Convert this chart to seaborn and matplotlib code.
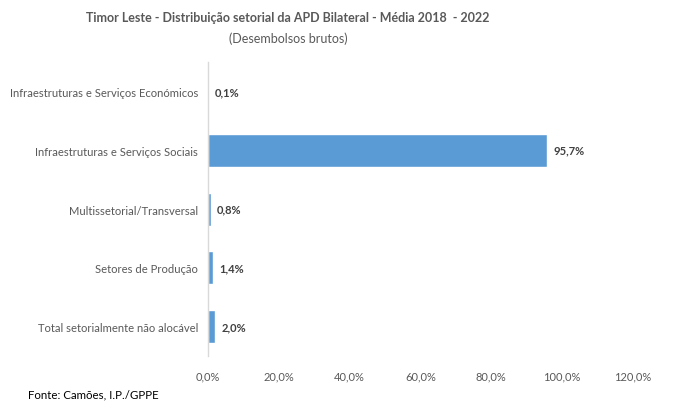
import pandas as pd
import matplotlib.pyplot as plt
import seaborn as sns

# data
categorias = ["Infraestruturas e Serviços Económicos",
              "Infraestruturas e Serviços Sociais",
              "Multissetorial/Transversal",
              "Setores de Produção",
              "Total setorialmente não alocável"]
valores = [0.1, 95.7, 0.8, 1.4, 2.0]
rotulos = ["0,1%", "95,7%", "0,8%", "1,4%", "2,0%"]
ticks = [0, 20, 40, 60, 80, 100, 120]

df = pd.DataFrame({"setor": categorias, "valor": valores})

sns.set_style("white")
plt.rcParams['font.family'] = ['Lato', 'DejaVu Sans']

fig = plt.figure(figsize=(6.73, 4.10), dpi=100)
ax = fig.add_axes([0.309, 0.129, 0.6315, 0.717])

sns.barplot(data=df, y="setor", x="valor", orient="h", color="#5B9BD5",
            width=0.56, saturation=1, ax=ax)

for i, (v, lab) in enumerate(zip(valores, rotulos)):
    ax.annotate(lab, (v, i), xytext=(4.5, 0), textcoords="offset points",
                va="center", ha="left", fontsize=8, fontweight="bold", color="#404040")

ax.set_xlim(0, 120)
ax.set_ylim(4.5, -0.5)
ax.set_xticks(ticks)
ax.set_xticklabels([f"{t},0%" for t in ticks])
ax.set_xlabel("")
ax.set_ylabel("")
ax.tick_params(axis="x", length=0, labelsize=8, labelcolor="#595959", pad=10)
ax.tick_params(axis="y", length=0, labelsize=8.1, labelcolor="#595959", pad=7)

for s in ["top", "right", "bottom"]:
    ax.spines[s].set_visible(False)
ax.spines["left"].set_color("#D9D9D9")
ax.spines["left"].set_linewidth(1)

fig.text(0.428, 0.955, "Timor Leste - Distribuição setorial da APD Bilateral - Média 2018  - 2022",
         ha="center", va="center", fontsize=9, fontweight="bold", color="#595959")
fig.text(0.428, 0.905, "(Desembolsos brutos)", ha="center", va="center",
         fontsize=9, color="#595959")
fig.text(0.042, 0.037, "Fonte: Camões, I.P./GPPE", ha="left", va="center",
         fontsize=8.3, color="black")

plt.savefig("out.png", dpi=100)
